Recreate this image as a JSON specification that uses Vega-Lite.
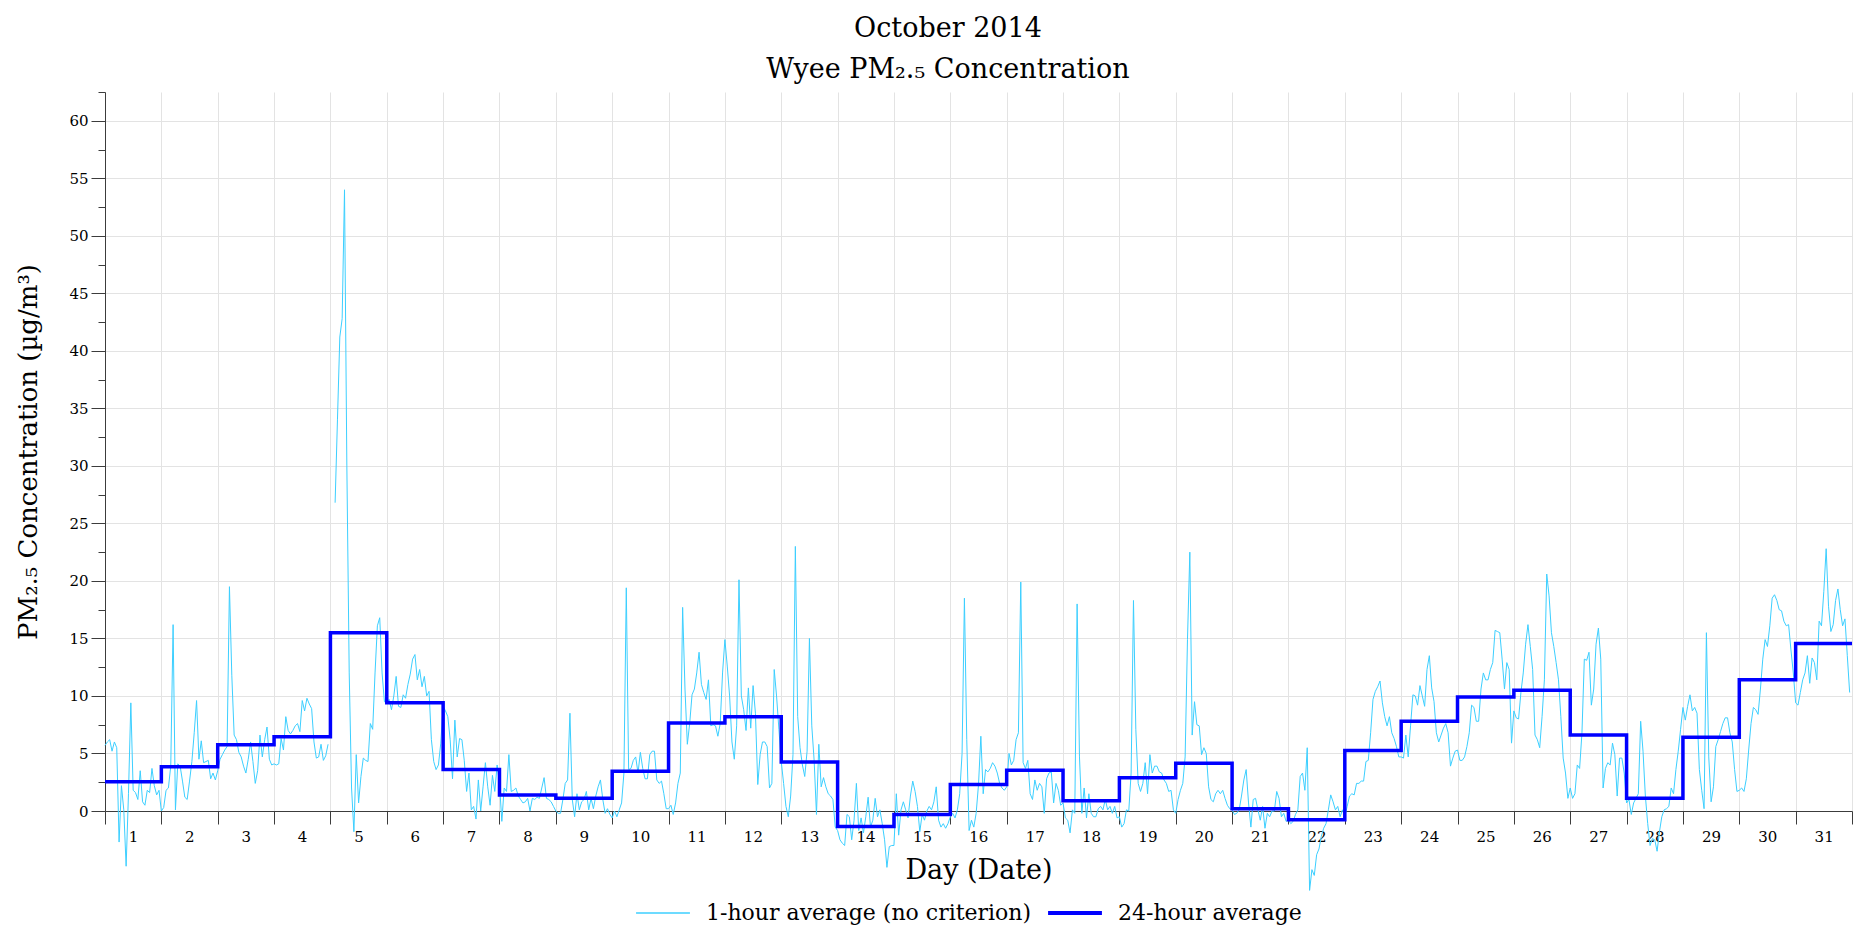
{
"$schema": "https://vega.github.io/schema/vega-lite/v6.json",
"width": 1747,
"height": 719,
"autosize": {"type": "none"},
"padding": {"left": 105, "top": 92, "right": 2, "bottom": 131},
"background": "white",
"config": {
 "font": "DejaVu Serif",
 "view": {"stroke": null},
 "axis": {"labelFont": "DejaVu Serif", "titleFont": "DejaVu Serif", "labelColor": "#000", "titleColor": "#000", "domainColor": "#3c3c3c", "tickColor": "#3c3c3c", "gridColor": "#e3e3e3", "gridWidth": 1, "titleFontWeight": "normal"},
 "legend": {"labelFont": "DejaVu Serif"},
 "title": {"font": "DejaVu Serif"}
},
"title": {"text": ["October 2014", "Wyee PM₂.₅ Concentration"], "fontSize": 27, "fontWeight": "normal", "lineHeight": 41, "frame": "bounds", "anchor": "middle", "offset": 8, "color": "#000"},
"datasets": {
"daily": [{"h":0,"a":2.55},{"h":24,"a":3.85},{"h":48,"a":5.75},{"h":72,"a":6.45},{"h":96,"a":15.5},{"h":120,"a":9.4},{"h":144,"a":3.6},{"h":168,"a":1.4},{"h":192,"a":1.1},{"h":216,"a":3.45},{"h":240,"a":7.65},{"h":264,"a":8.2},{"h":288,"a":4.25},{"h":312,"a":-1.35},{"h":336,"a":-0.3},{"h":360,"a":2.3},{"h":384,"a":3.55},{"h":408,"a":0.9},{"h":432,"a":2.9},{"h":456,"a":4.15},{"h":480,"a":0.2},{"h":504,"a":-0.75},{"h":528,"a":5.25},{"h":552,"a":7.8},{"h":576,"a":9.9},{"h":600,"a":10.5},{"h":624,"a":6.6},{"h":648,"a":1.1},{"h":672,"a":6.4},{"h":696,"a":11.4},{"h":720,"a":14.55},{"h":744,"a":14.55}],
"hourly": [
{"h":0,"v":5.7},{"h":1,"v":6.0},{"h":2,"v":6.2},{"h":3,"v":5.2},{"h":4,"v":6.0},{"h":5,"v":5.5},{"h":6,"v":-2.7},{"h":7,"v":2.2},{"h":8,"v":0.1},{"h":9,"v":-4.8},{"h":10,"v":1.5},{"h":11,"v":9.4},{"h":12,"v":1.8},{"h":13,"v":1.6},{"h":14,"v":1.0},{"h":15,"v":3.5},{"h":16,"v":0.8},{"h":17,"v":0.5},{"h":18,"v":1.8},{"h":19,"v":1.6},{"h":20,"v":3.7},{"h":21,"v":2.2},{"h":22,"v":1.4},{"h":23,"v":1.8},
{"h":24,"v":0.0},{"h":25,"v":0.3},{"h":26,"v":1.8},{"h":27,"v":2.0},{"h":28,"v":3.9},{"h":29,"v":16.2},{"h":30,"v":0.1},{"h":31,"v":4.1},{"h":32,"v":3.9},{"h":33,"v":2.6},{"h":34,"v":1.2},{"h":35,"v":1.0},{"h":36,"v":2.6},{"h":37,"v":4.3},{"h":38,"v":6.8},{"h":39,"v":9.6},{"h":40,"v":4.5},{"h":41,"v":6.1},{"h":42,"v":4.2},{"h":43,"v":4.3},{"h":44,"v":4.4},{"h":45,"v":2.8},{"h":46,"v":3.3},{"h":47,"v":2.7},
{"h":48,"v":3.5},{"h":49,"v":4.5},{"h":50,"v":4.9},{"h":51,"v":5.3},{"h":52,"v":5.6},{"h":53,"v":19.5},{"h":54,"v":11.8},{"h":55,"v":6.6},{"h":56,"v":6.2},{"h":57,"v":5.1},{"h":58,"v":4.7},{"h":59,"v":3.9},{"h":60,"v":3.3},{"h":61,"v":4.5},{"h":62,"v":6.0},{"h":63,"v":4.3},{"h":64,"v":2.4},{"h":65,"v":3.5},{"h":66,"v":6.6},{"h":67,"v":4.7},{"h":68,"v":6.2},{"h":69,"v":7.3},{"h":70,"v":4.5},{"h":71,"v":4.0},
{"h":72,"v":4.1},{"h":73,"v":4.0},{"h":74,"v":4.1},{"h":75,"v":6.3},{"h":76,"v":5.3},{"h":77,"v":8.2},{"h":78,"v":7.0},{"h":79,"v":6.7},{"h":80,"v":7.0},{"h":81,"v":7.4},{"h":82,"v":7.6},{"h":83,"v":6.9},{"h":84,"v":9.6},{"h":85,"v":8.7},{"h":86,"v":9.8},{"h":87,"v":9.3},{"h":88,"v":8.9},{"h":89,"v":6.0},{"h":90,"v":4.6},{"h":91,"v":4.7},{"h":92,"v":5.8},{"h":93,"v":4.4},{"h":94,"v":4.8},{"h":95,"v":5.8},
{"h":96,"v":null},{"h":97,"v":null},{"h":98,"v":26.8},{"h":99,"v":34.0},{"h":100,"v":41.2},{"h":101,"v":42.8},{"h":102,"v":54.0},{"h":103,"v":30.0},{"h":104,"v":12.0},{"h":105,"v":2.0},{"h":106,"v":-1.8},{"h":107,"v":4.9},{"h":108,"v":0.7},{"h":109,"v":3.0},{"h":110,"v":4.6},{"h":111,"v":4.4},{"h":112,"v":4.3},{"h":113,"v":7.6},{"h":114,"v":7.1},{"h":115,"v":12.0},{"h":116,"v":16.1},{"h":117,"v":16.8},{"h":118,"v":12.0},{"h":119,"v":9.5},
{"h":120,"v":9.4},{"h":121,"v":9.7},{"h":122,"v":8.8},{"h":123,"v":10.0},{"h":124,"v":11.7},{"h":125,"v":9.1},{"h":126,"v":9.0},{"h":127,"v":10.1},{"h":128,"v":9.8},{"h":129,"v":11.0},{"h":130,"v":11.9},{"h":131,"v":13.2},{"h":132,"v":13.6},{"h":133,"v":11.4},{"h":134,"v":12.3},{"h":135,"v":10.8},{"h":136,"v":11.7},{"h":137,"v":10.0},{"h":138,"v":10.4},{"h":139,"v":6.2},{"h":140,"v":4.3},{"h":141,"v":3.6},{"h":142,"v":4.0},{"h":143,"v":5.9},
{"h":144,"v":9.1},{"h":145,"v":8.7},{"h":146,"v":8.2},{"h":147,"v":6.2},{"h":148,"v":2.8},{"h":149,"v":7.9},{"h":150,"v":4.7},{"h":151,"v":6.3},{"h":152,"v":6.2},{"h":153,"v":4.4},{"h":154,"v":1.7},{"h":155,"v":3.3},{"h":156,"v":0.1},{"h":157,"v":0.4},{"h":158,"v":-0.7},{"h":159,"v":2.7},{"h":160,"v":0.0},{"h":161,"v":2.1},{"h":162,"v":4.2},{"h":163,"v":2.1},{"h":164,"v":0.5},{"h":165,"v":3.1},{"h":166,"v":1.7},{"h":167,"v":4.0},
{"h":168,"v":2.4},{"h":169,"v":-0.9},{"h":170,"v":2.0},{"h":171,"v":1.7},{"h":172,"v":4.9},{"h":173,"v":1.7},{"h":174,"v":1.8},{"h":175,"v":2.0},{"h":176,"v":1.3},{"h":177,"v":1.0},{"h":178,"v":0.7},{"h":179,"v":0.8},{"h":180,"v":1.1},{"h":181,"v":0.0},{"h":182,"v":1.1},{"h":183,"v":1.0},{"h":184,"v":1.2},{"h":185,"v":1.1},{"h":186,"v":2.0},{"h":187,"v":2.9},{"h":188,"v":1.1},{"h":189,"v":1.0},{"h":190,"v":0.8},{"h":191,"v":0.4},
{"h":192,"v":0.0},{"h":193,"v":-0.2},{"h":194,"v":-0.2},{"h":195,"v":1.0},{"h":196,"v":2.4},{"h":197,"v":2.7},{"h":198,"v":8.5},{"h":199,"v":1.0},{"h":200,"v":-0.5},{"h":201,"v":1.5},{"h":202,"v":0.1},{"h":203,"v":0.8},{"h":204,"v":1.0},{"h":205,"v":1.7},{"h":206,"v":0.1},{"h":207,"v":1.1},{"h":208,"v":0.2},{"h":209,"v":1.3},{"h":210,"v":2.1},{"h":211,"v":2.7},{"h":212,"v":1.0},{"h":213,"v":-0.2},{"h":214,"v":0.2},{"h":215,"v":-0.3},
{"h":216,"v":-0.6},{"h":217,"v":0.0},{"h":218,"v":-0.5},{"h":219,"v":0.1},{"h":220,"v":0.7},{"h":221,"v":3.3},{"h":222,"v":19.4},{"h":223,"v":3.6},{"h":224,"v":3.7},{"h":225,"v":4.4},{"h":226,"v":4.7},{"h":227,"v":3.3},{"h":228,"v":5.1},{"h":229,"v":3.7},{"h":230,"v":2.8},{"h":231,"v":2.8},{"h":232,"v":4.9},{"h":233,"v":5.2},{"h":234,"v":5.2},{"h":235,"v":2.7},{"h":236,"v":2.4},{"h":237,"v":2.6},{"h":238,"v":1.5},{"h":239,"v":0.2},
{"h":240,"v":0.2},{"h":241,"v":0.5},{"h":242,"v":-0.3},{"h":243,"v":0.7},{"h":244,"v":2.4},{"h":245,"v":3.3},{"h":246,"v":17.7},{"h":247,"v":10.6},{"h":248,"v":5.8},{"h":249,"v":7.6},{"h":250,"v":10.1},{"h":251,"v":10.6},{"h":252,"v":12.0},{"h":253,"v":13.8},{"h":254,"v":11.0},{"h":255,"v":10.3},{"h":256,"v":9.7},{"h":257,"v":11.4},{"h":258,"v":7.4},{"h":259,"v":7.5},{"h":260,"v":7.4},{"h":261,"v":6.5},{"h":262,"v":7.6},{"h":263,"v":12.0},
{"h":264,"v":14.9},{"h":265,"v":12.6},{"h":266,"v":10.0},{"h":267,"v":6.0},{"h":268,"v":4.5},{"h":269,"v":7.4},{"h":270,"v":20.1},{"h":271,"v":10.0},{"h":272,"v":8.8},{"h":273,"v":7.0},{"h":274,"v":10.7},{"h":275,"v":7.2},{"h":276,"v":10.9},{"h":277,"v":8.5},{"h":278,"v":2.3},{"h":279,"v":4.9},{"h":280,"v":6.0},{"h":281,"v":6.0},{"h":282,"v":5.6},{"h":283,"v":2.0},{"h":284,"v":2.4},{"h":285,"v":12.3},{"h":286,"v":10.0},{"h":287,"v":7.1},
{"h":288,"v":4.3},{"h":289,"v":2.4},{"h":290,"v":0.4},{"h":291,"v":-0.5},{"h":292,"v":1.3},{"h":293,"v":4.9},{"h":294,"v":23.0},{"h":295,"v":8.2},{"h":296,"v":5.5},{"h":297,"v":4.0},{"h":298,"v":3.0},{"h":299,"v":5.2},{"h":300,"v":15.0},{"h":301,"v":7.4},{"h":302,"v":4.4},{"h":303,"v":-0.3},{"h":304,"v":5.8},{"h":305,"v":2.1},{"h":306,"v":2.9},{"h":307,"v":2.1},{"h":308,"v":1.5},{"h":309,"v":1.3},{"h":310,"v":1.0},{"h":311,"v":-1.4},
{"h":312,"v":-1.7},{"h":313,"v":-2.5},{"h":314,"v":-2.8},{"h":315,"v":-3.0},{"h":316,"v":-0.3},{"h":317,"v":-0.5},{"h":318,"v":-2.5},{"h":319,"v":-0.8},{"h":320,"v":2.4},{"h":321,"v":-1.7},{"h":322,"v":-0.6},{"h":323,"v":-1.9},{"h":324,"v":-0.5},{"h":325,"v":1.2},{"h":326,"v":-1.4},{"h":327,"v":-0.8},{"h":328,"v":1.1},{"h":329,"v":-0.5},{"h":330,"v":0.1},{"h":331,"v":-1.1},{"h":332,"v":-2.5},{"h":333,"v":-4.9},{"h":334,"v":-3.1},{"h":335,"v":-3.0},
{"h":336,"v":-3.0},{"h":337,"v":1.5},{"h":338,"v":-2.1},{"h":339,"v":0.1},{"h":340,"v":0.8},{"h":341,"v":0.1},{"h":342,"v":-0.6},{"h":343,"v":1.3},{"h":344,"v":2.6},{"h":345,"v":1.7},{"h":346,"v":0.4},{"h":347,"v":-1.8},{"h":348,"v":-0.3},{"h":349,"v":-0.8},{"h":350,"v":0.0},{"h":351,"v":0.4},{"h":352,"v":0.1},{"h":353,"v":0.8},{"h":354,"v":2.1},{"h":355,"v":-0.8},{"h":356,"v":-1.4},{"h":357,"v":-1.1},{"h":358,"v":-1.5},{"h":359,"v":-1.1},
{"h":360,"v":-0.5},{"h":361,"v":-0.2},{"h":362,"v":-0.6},{"h":363,"v":0.1},{"h":364,"v":1.5},{"h":365,"v":5.0},{"h":366,"v":18.5},{"h":367,"v":6.2},{"h":368,"v":-1.7},{"h":369,"v":-0.8},{"h":370,"v":-1.4},{"h":371,"v":-0.2},{"h":372,"v":2.3},{"h":373,"v":6.5},{"h":374,"v":1.5},{"h":375,"v":3.6},{"h":376,"v":3.4},{"h":377,"v":3.7},{"h":378,"v":4.2},{"h":379,"v":3.9},{"h":380,"v":3.3},{"h":381,"v":2.4},{"h":382,"v":2.0},{"h":383,"v":1.8},
{"h":384,"v":2.1},{"h":385,"v":5.0},{"h":386,"v":4.0},{"h":387,"v":4.4},{"h":388,"v":6.2},{"h":389,"v":6.8},{"h":390,"v":19.9},{"h":391,"v":4.2},{"h":392,"v":3.7},{"h":393,"v":4.4},{"h":394,"v":1.5},{"h":395,"v":1.0},{"h":396,"v":2.7},{"h":397,"v":1.8},{"h":398,"v":2.4},{"h":399,"v":2.1},{"h":400,"v":-0.2},{"h":401,"v":2.8},{"h":402,"v":3.3},{"h":403,"v":3.4},{"h":404,"v":0.7},{"h":405,"v":2.4},{"h":406,"v":1.8},{"h":407,"v":0.5},
{"h":408,"v":0.7},{"h":409,"v":-0.6},{"h":410,"v":-0.8},{"h":411,"v":-1.9},{"h":412,"v":0.1},{"h":413,"v":-0.2},{"h":414,"v":18.0},{"h":415,"v":4.7},{"h":416,"v":-0.2},{"h":417,"v":2.0},{"h":418,"v":-0.6},{"h":419,"v":1.5},{"h":420,"v":-0.2},{"h":421,"v":-0.5},{"h":422,"v":-0.5},{"h":423,"v":0.2},{"h":424,"v":0.4},{"h":425,"v":0.1},{"h":426,"v":1.0},{"h":427,"v":0.1},{"h":428,"v":0.4},{"h":429,"v":-0.2},{"h":430,"v":0.4},{"h":431,"v":-0.6},
{"h":432,"v":-0.5},{"h":433,"v":-1.4},{"h":434,"v":-1.1},{"h":435,"v":0.1},{"h":436,"v":0.0},{"h":437,"v":3.3},{"h":438,"v":18.3},{"h":439,"v":7.1},{"h":440,"v":2.4},{"h":441,"v":1.7},{"h":442,"v":2.4},{"h":443,"v":4.2},{"h":444,"v":1.5},{"h":445,"v":4.9},{"h":446,"v":3.3},{"h":447,"v":3.9},{"h":448,"v":3.9},{"h":449,"v":3.4},{"h":450,"v":3.3},{"h":451,"v":2.7},{"h":452,"v":2.4},{"h":453,"v":1.7},{"h":454,"v":1.8},{"h":455,"v":0.1},
{"h":456,"v":-0.2},{"h":457,"v":1.0},{"h":458,"v":1.8},{"h":459,"v":2.4},{"h":460,"v":4.7},{"h":461,"v":14.9},{"h":462,"v":22.5},{"h":463,"v":6.6},{"h":464,"v":9.5},{"h":465,"v":7.5},{"h":466,"v":7.4},{"h":467,"v":4.9},{"h":468,"v":5.5},{"h":469,"v":5.0},{"h":470,"v":2.1},{"h":471,"v":1.0},{"h":472,"v":0.8},{"h":473,"v":1.5},{"h":474,"v":1.8},{"h":475,"v":1.5},{"h":476,"v":1.8},{"h":477,"v":1.1},{"h":478,"v":0.5},{"h":479,"v":0.2},
{"h":480,"v":0.1},{"h":481,"v":-0.3},{"h":482,"v":-0.2},{"h":483,"v":0.1},{"h":484,"v":1.3},{"h":485,"v":2.7},{"h":486,"v":3.6},{"h":487,"v":0.7},{"h":488,"v":-1.4},{"h":489,"v":1.0},{"h":490,"v":1.1},{"h":491,"v":0.1},{"h":492,"v":-0.8},{"h":493,"v":0.4},{"h":494,"v":-1.5},{"h":495,"v":-0.2},{"h":496,"v":-0.5},{"h":497,"v":0.0},{"h":498,"v":0.0},{"h":499,"v":1.7},{"h":500,"v":1.1},{"h":501,"v":-0.5},{"h":502,"v":-0.2},{"h":503,"v":-0.9},
{"h":504,"v":-0.8},{"h":505,"v":-1.1},{"h":506,"v":-0.9},{"h":507,"v":-0.3},{"h":508,"v":0.1},{"h":509,"v":3.0},{"h":510,"v":3.3},{"h":511,"v":1.8},{"h":512,"v":5.5},{"h":513,"v":-6.9},{"h":514,"v":-5.1},{"h":515,"v":-5.6},{"h":516,"v":-3.8},{"h":517,"v":-3.3},{"h":518,"v":-2.2},{"h":519,"v":-1.5},{"h":520,"v":-1.1},{"h":521,"v":0.1},{"h":522,"v":1.4},{"h":523,"v":0.8},{"h":524,"v":0.1},{"h":525,"v":0.4},{"h":526,"v":-0.5},{"h":527,"v":0.1},
{"h":528,"v":-0.5},{"h":529,"v":0.4},{"h":530,"v":1.3},{"h":531,"v":1.5},{"h":532,"v":1.4},{"h":533,"v":2.4},{"h":534,"v":2.4},{"h":535,"v":2.6},{"h":536,"v":2.6},{"h":537,"v":4.3},{"h":538,"v":4.4},{"h":539,"v":6.8},{"h":540,"v":9.7},{"h":541,"v":10.4},{"h":542,"v":10.8},{"h":543,"v":11.3},{"h":544,"v":9.4},{"h":545,"v":8.2},{"h":546,"v":7.4},{"h":547,"v":8.2},{"h":548,"v":6.8},{"h":549,"v":6.3},{"h":550,"v":5.6},{"h":551,"v":4.7},
{"h":552,"v":4.7},{"h":553,"v":4.6},{"h":554,"v":6.6},{"h":555,"v":4.7},{"h":556,"v":7.4},{"h":557,"v":10.1},{"h":558,"v":10.0},{"h":559,"v":9.2},{"h":560,"v":10.9},{"h":561,"v":10.0},{"h":562,"v":9.1},{"h":563,"v":12.3},{"h":564,"v":13.5},{"h":565,"v":10.7},{"h":566,"v":9.5},{"h":567,"v":6.8},{"h":568,"v":6.0},{"h":569,"v":6.6},{"h":570,"v":7.2},{"h":571,"v":7.6},{"h":572,"v":6.8},{"h":573,"v":3.9},{"h":574,"v":4.6},{"h":575,"v":5.2},
{"h":576,"v":5.3},{"h":577,"v":4.4},{"h":578,"v":4.4},{"h":579,"v":4.7},{"h":580,"v":5.6},{"h":581,"v":6.8},{"h":582,"v":9.2},{"h":583,"v":9.0},{"h":584,"v":7.8},{"h":585,"v":7.8},{"h":586,"v":10.6},{"h":587,"v":12.0},{"h":588,"v":11.4},{"h":589,"v":11.4},{"h":590,"v":12.3},{"h":591,"v":12.9},{"h":592,"v":15.7},{"h":593,"v":15.6},{"h":594,"v":15.5},{"h":595,"v":13.2},{"h":596,"v":10.6},{"h":597,"v":12.9},{"h":598,"v":12.3},{"h":599,"v":5.9},
{"h":600,"v":8.7},{"h":601,"v":8.1},{"h":602,"v":8.0},{"h":603,"v":10.3},{"h":604,"v":12.0},{"h":605,"v":14.5},{"h":606,"v":16.2},{"h":607,"v":14.3},{"h":608,"v":12.3},{"h":609,"v":6.6},{"h":610,"v":6.2},{"h":611,"v":5.5},{"h":612,"v":8.2},{"h":613,"v":11.4},{"h":614,"v":20.6},{"h":615,"v":18.7},{"h":616,"v":15.5},{"h":617,"v":14.3},{"h":618,"v":12.9},{"h":619,"v":11.4},{"h":620,"v":8.2},{"h":621,"v":4.6},{"h":622,"v":3.3},{"h":623,"v":1.1},
{"h":624,"v":2.0},{"h":625,"v":1.1},{"h":626,"v":1.5},{"h":627,"v":4.0},{"h":628,"v":3.7},{"h":629,"v":6.8},{"h":630,"v":13.2},{"h":631,"v":13.1},{"h":632,"v":13.8},{"h":633,"v":9.2},{"h":634,"v":10.6},{"h":635,"v":14.5},{"h":636,"v":15.9},{"h":637,"v":13.2},{"h":638,"v":2.0},{"h":639,"v":3.7},{"h":640,"v":4.2},{"h":641,"v":4.0},{"h":642,"v":5.9},{"h":643,"v":4.9},{"h":644,"v":1.3},{"h":645,"v":4.6},{"h":646,"v":4.6},{"h":647,"v":3.3},
{"h":648,"v":0.7},{"h":649,"v":1.0},{"h":650,"v":-0.3},{"h":651,"v":0.7},{"h":652,"v":1.1},{"h":653,"v":1.5},{"h":654,"v":7.8},{"h":655,"v":5.2},{"h":656,"v":1.3},{"h":657,"v":-1.1},{"h":658,"v":-3.0},{"h":659,"v":-2.4},{"h":660,"v":-2.5},{"h":661,"v":-3.5},{"h":662,"v":-1.8},{"h":663,"v":-0.5},{"h":664,"v":0.1},{"h":665,"v":0.2},{"h":666,"v":0.4},{"h":667,"v":2.0},{"h":668,"v":1.5},{"h":669,"v":3.6},{"h":670,"v":5.2},{"h":671,"v":7.1},
{"h":672,"v":9.0},{"h":673,"v":7.9},{"h":674,"v":9.1},{"h":675,"v":10.1},{"h":676,"v":8.7},{"h":677,"v":9.0},{"h":678,"v":8.5},{"h":679,"v":3.6},{"h":680,"v":1.8},{"h":681,"v":0.2},{"h":682,"v":15.5},{"h":683,"v":4.7},{"h":684,"v":0.8},{"h":685,"v":2.1},{"h":686,"v":5.6},{"h":687,"v":6.2},{"h":688,"v":6.9},{"h":689,"v":7.6},{"h":690,"v":8.1},{"h":691,"v":8.1},{"h":692,"v":6.8},{"h":693,"v":6.0},{"h":694,"v":3.6},{"h":695,"v":1.7},
{"h":696,"v":1.8},{"h":697,"v":2.0},{"h":698,"v":1.7},{"h":699,"v":2.8},{"h":700,"v":5.3},{"h":701,"v":7.6},{"h":702,"v":9.0},{"h":703,"v":8.8},{"h":704,"v":8.4},{"h":705,"v":10.6},{"h":706,"v":13.2},{"h":707,"v":14.9},{"h":708,"v":14.3},{"h":709,"v":16.1},{"h":710,"v":18.5},{"h":711,"v":18.8},{"h":712,"v":18.3},{"h":713,"v":17.5},{"h":714,"v":17.4},{"h":715,"v":16.5},{"h":716,"v":16.1},{"h":717,"v":16.2},{"h":718,"v":14.0},{"h":719,"v":12.0},
{"h":720,"v":9.4},{"h":721,"v":9.2},{"h":722,"v":10.3},{"h":723,"v":11.4},{"h":724,"v":12.0},{"h":725,"v":13.5},{"h":726,"v":11.1},{"h":727,"v":13.3},{"h":728,"v":12.9},{"h":729,"v":11.4},{"h":730,"v":16.5},{"h":731,"v":16.1},{"h":732,"v":19.1},{"h":733,"v":22.8},{"h":734,"v":17.8},{"h":735,"v":15.6},{"h":736,"v":16.2},{"h":737,"v":18.3},{"h":738,"v":19.3},{"h":739,"v":17.5},{"h":740,"v":16.1},{"h":741,"v":16.7},{"h":742,"v":13.5},{"h":743,"v":10.3}
]
},
"layer": [
 {
  "data": {"name": "hourly"},
  "mark": {"type": "line", "clip": false, "strokeWidth": 1, "interpolate": "linear"},
  "encoding": {
   "x": {"field": "h", "type": "quantitative", "scale": {"domain": [0, 744], "nice": false, "zero": false},
    "axis": {"values": [0,24,48,72,96,120,144,168,192,216,240,264,288,312,336,360,384,408,432,456,480,504,528,552,576,600,624,648,672,696,720,744],
     "labelExpr": "datum.value >= 744 ? '' : '' + (datum.value / 24 + 1)",
     "labelOffset": 28, "labelFlush": false, "labelOverlap": false, "labelAlign": "center",
     "tickSize": 13, "labelPadding": 5, "labelFontSize": 15, "grid": true,
     "title": "Day (Date)", "titleFontSize": 27, "titlePadding": 13}},
   "y": {"field": "v", "type": "quantitative", "scale": {"domain": [0, 62.5], "nice": false, "zero": false},
    "axis": {"values": [0,5,10,15,20,25,30,35,40,45,50,55,60], "tickSize": 14, "labelPadding": 3, "labelFontSize": 15, "labelFlush": false, "grid": true,
     "title": "PM₂.₅ Concentration (µg/m³)", "titleFontSize": 26, "titlePadding": 27}},
   "color": {"datum": "1-hour average (no criterion)",
    "scale": {"domain": ["1-hour average (no criterion)", "24-hour average"], "range": ["#3ccfff", "#0000ff"]},
    "legend": {"orient": "none", "legendX": 547, "legendY": 810, "direction": "horizontal", "title": null,
     "symbolType": "stroke", "symbolSize": 2900, "symbolStrokeWidth": 2, "labelFontSize": 22, "labelLimit": 0, "labelOffset": 32, "columnPadding": 8, "labelColor": "#000",
     "encode": {"symbols": {"update": {"strokeWidth": {"signal": "datum.value === '24-hour average' ? 4 : 1.5"}}}}}}
  }
 },
 {
  "data": {"name": "daily"},
  "mark": {"type": "line", "clip": false, "strokeWidth": 3.5, "interpolate": "step-after"},
  "encoding": {
   "x": {"field": "h", "type": "quantitative"},
   "y": {"field": "a", "type": "quantitative",
    "axis": {"values": [2.5,7.5,12.5,17.5,22.5,27.5,32.5,37.5,42.5,47.5,52.5,57.5,62.5], "labels": false, "grid": false, "domain": false, "tickSize": 7, "title": null, "orient": "left"}},
   "color": {"datum": "24-hour average"}
  }
 }
],
"resolve": {"axis": {"y": "independent"}}
}
